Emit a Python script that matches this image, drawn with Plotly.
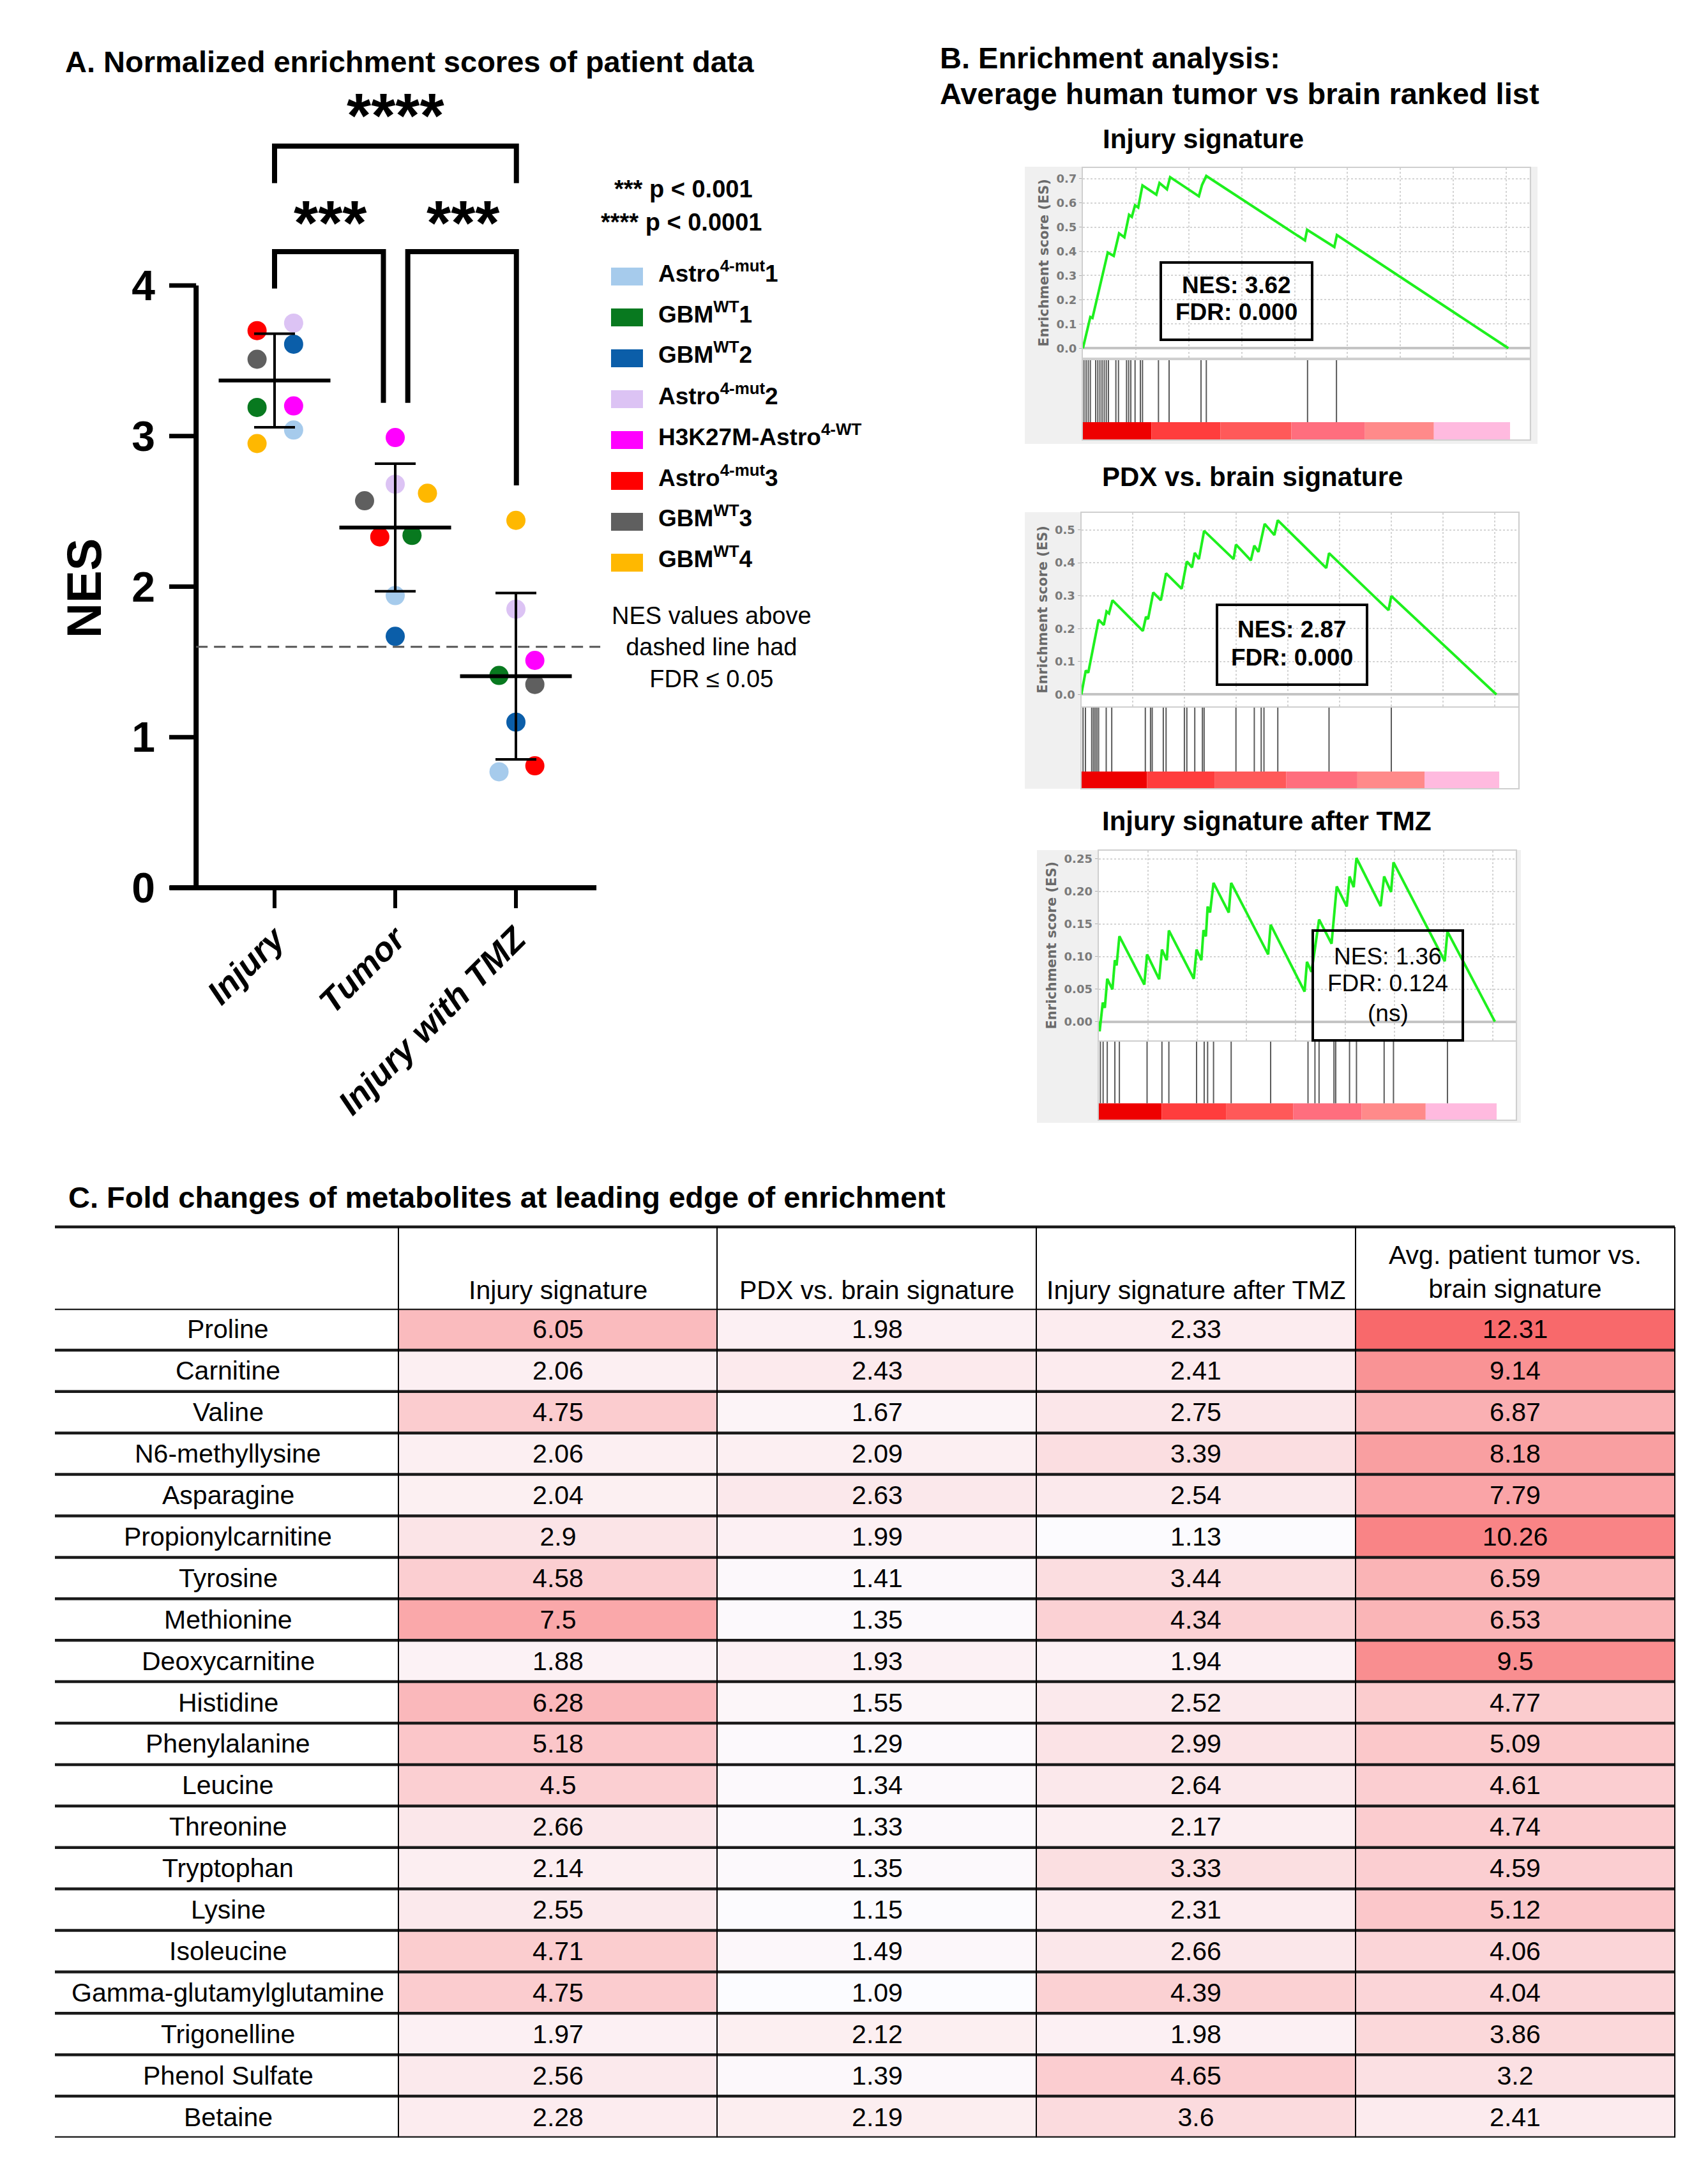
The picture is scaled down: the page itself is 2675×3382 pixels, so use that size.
import numpy as np
import plotly.graph_objects as go

W, H = 2675, 3382
FONT = "Liberation Sans"

# ======================= DATA =======================
# ---- Panel A: NES per patient sample ----
groups = ["Injury", "Tumor", "Injury with TMZ"]
samples = ["Astro<sup>4-mut</sup>1", "GBM<sup>WT</sup>1", "GBM<sup>WT</sup>2",
           "Astro<sup>4-mut</sup>2", "H3K27M-Astro<sup>4-WT</sup>", "Astro<sup>4-mut</sup>3",
           "GBM<sup>WT</sup>3", "GBM<sup>WT</sup>4"]
nes_injury = [3.04, 3.19, 3.61, 3.75, 3.20, 3.70, 3.51, 2.95]
nes_tumor = [1.94, 2.34, 1.67, 2.68, 2.99, 2.33, 2.57, 2.62]
nes_tmz = [0.77, 1.41, 1.10, 1.85, 1.51, 0.81, 1.35, 2.44]
fdr_nes_cutoff = 1.6
sig_top = "****"
sig_pair = "***"
p_legend = ["*** p &lt; 0.001", "**** p &lt; 0.0001"]
fdr_note = "NES values above<br>dashed line had<br>FDR ≤ 0.05"

# ---- Panel B: GSEA running enrichment scores ----
gsea_titles = ["Injury signature", "PDX vs. brain signature", "Injury signature after TMZ"]

gsea1_rank = [0, 0.0175, 0.0225, 0.0585, 0.0725, 0.085, 0.0975, 0.1085, 0.115, 0.1225, 0.13,
              0.14, 0.1726, 0.18, 0.1976, 0.205, 0.2726, 0.28, 0.29, 0.522, 0.527, 0.591, 0.597, 1.0]
gsea1_es = [0, 0.129, 0.125, 0.395, 0.381, 0.474, 0.458, 0.551, 0.542, 0.590, 0.581,
            0.672, 0.634, 0.682, 0.656, 0.706, 0.627, 0.674, 0.711, 0.445, 0.489, 0.418, 0.467, 0.0]
gsea1_hits = [0.0025, 0.0075, 0.0125, 0.0175, 0.030, 0.035, 0.040, 0.045, 0.050, 0.055, 0.060,
              0.0775, 0.0836, 0.1026, 0.1076, 0.1126, 0.1226, 0.1351, 0.1401, 0.1776, 0.2026,
              0.2776, 0.2901, 0.528, 0.596]
gsea1_bins = [0, 0.161, 0.323, 0.490, 0.663, 0.825, 1.004]

gsea2_rank = [0, 0.0108, 0.0167, 0.0417, 0.0542, 0.0608, 0.0667, 0.075, 0.1483, 0.1558, 0.1608,
              0.1733, 0.1917, 0.2042, 0.2417, 0.2542, 0.2667, 0.2733, 0.2833, 0.2958, 0.3667,
              0.3725, 0.4083, 0.4167, 0.4267, 0.4417, 0.465, 0.4733, 0.59, 0.5967, 0.74, 0.7467, 1.0]
gsea2_es = [0, 0.073, 0.066, 0.227, 0.211, 0.252, 0.246, 0.286, 0.193, 0.236, 0.229,
            0.310, 0.286, 0.368, 0.321, 0.404, 0.386, 0.430, 0.411, 0.497, 0.411,
            0.455, 0.407, 0.452, 0.433, 0.518, 0.484, 0.529, 0.384, 0.429, 0.256, 0.299, 0.0]
gsea2_hits = [0.0042, 0.01, 0.025, 0.0292, 0.0333, 0.0375, 0.0417, 0.06, 0.0733, 0.1542, 0.1667,
              0.1708, 0.1975, 0.2042, 0.2483, 0.2542, 0.2733, 0.2917, 0.2958, 0.3725, 0.4167,
              0.4333, 0.44, 0.4733, 0.5967, 0.7467]
gsea2_bins = [0, 0.1583, 0.3208, 0.4933, 0.665, 0.8267, 1.0067]

gsea3_rank = [0, 0.0026, 0.0105, 0.0157, 0.0218, 0.0349, 0.041, 0.0454, 0.0524, 0.1153, 0.1223,
              0.1528, 0.1598, 0.172, 0.1773, 0.2402, 0.2472, 0.2594, 0.2646, 0.2707, 0.2751,
              0.2812, 0.29, 0.3284, 0.3345, 0.4279, 0.4341, 0.5197, 0.5258, 0.5371, 0.5459,
              0.5563, 0.5878, 0.6009, 0.6262, 0.6332, 0.6437, 0.6507, 0.7118, 0.7205, 0.738,
              0.7441, 0.8734, 0.8803, 1.0]
gsea3_es = [0, -0.015, 0.0293, 0.0212, 0.0658, 0.0495, 0.0944, 0.0863, 0.1312, 0.057, 0.1032,
            0.0651, 0.1107, 0.0944, 0.14, 0.0658, 0.1107, 0.0944, 0.1406, 0.1309, 0.1768,
            0.1676, 0.2132, 0.1676, 0.2132, 0.1032, 0.1488, 0.0462, 0.0918, 0.0765, 0.1123,
            0.1569, 0.1198, 0.2077, 0.1768, 0.223, 0.2067, 0.2513, 0.1774, 0.223, 0.1992,
            0.2448, 0.0928, 0.1383, 0.0]
gsea3_hits = [0.0044, 0.0114, 0.0218, 0.041, 0.0524, 0.1223, 0.1598, 0.1773, 0.2472, 0.2664,
              0.2751, 0.29, 0.3345, 0.4341, 0.5284, 0.5459, 0.5563, 0.5939, 0.5983, 0.6332,
              0.6507, 0.7205, 0.7441, 0.8803]
gsea3_bins = [0, 0.159, 0.3214, 0.4908, 0.6638, 0.8253, 1.0044]

gsea_stats = [["NES: 3.62", "FDR: 0.000"], ["NES: 2.87", "FDR: 0.000"],
              ["NES: 1.36", "FDR: 0.124", "(ns)"]]

# ---- Panel C: fold-change table ----
metabolites = ["Proline", "Carnitine", "Valine", "N6-methyllysine", "Asparagine",
               "Propionylcarnitine", "Tyrosine", "Methionine", "Deoxycarnitine", "Histidine",
               "Phenylalanine", "Leucine", "Threonine", "Tryptophan", "Lysine", "Isoleucine",
               "Gamma-glutamylglutamine", "Trigonelline", "Phenol Sulfate", "Betaine"]
fc_injury = [6.05, 2.06, 4.75, 2.06, 2.04, 2.9, 4.58, 7.5, 1.88, 6.28, 5.18, 4.5, 2.66, 2.14,
             2.55, 4.71, 4.75, 1.97, 2.56, 2.28]
fc_pdx = [1.98, 2.43, 1.67, 2.09, 2.63, 1.99, 1.41, 1.35, 1.93, 1.55, 1.29, 1.34, 1.33, 1.35,
          1.15, 1.49, 1.09, 2.12, 1.39, 2.19]
fc_tmz = [2.33, 2.41, 2.75, 3.39, 2.54, 1.13, 3.44, 4.34, 1.94, 2.52, 2.99, 2.64, 2.17, 3.33,
          2.31, 2.66, 4.39, 1.98, 4.65, 3.6]
fc_avg = [12.31, 9.14, 6.87, 8.18, 7.79, 10.26, 6.59, 6.53, 9.5, 4.77, 5.09, 4.61, 4.74, 4.59,
          5.12, 4.06, 4.04, 3.86, 3.2, 2.41]
table_headers = ["Injury signature", "PDX vs. brain signature", "Injury signature after TMZ",
                 "Avg. patient tumor vs.<br>brain signature"]

titles = {"A": "A. Normalized enrichment scores of patient data",
          "B1": "B. Enrichment analysis:",
          "B2": "Average human tumor vs brain ranked list",
          "C": "C. Fold changes of metabolites at leading edge of enrichment"}

# ======================= STYLE =======================
sample_colors = ["#a6cbec", "#08791f", "#0b5ea9", "#dcc3f4", "#ff00ff", "#ff0000",
                 "#5f5f5f", "#ffb800"]
jitter = [[0.158, -0.145, 0.158, 0.158, 0.158, -0.145, -0.145, -0.145],
          [0.0, 0.139, 0.0, 0.0, 0.0, -0.128, -0.254, 0.267],
          [-0.14, -0.14, 0.0, 0.0, 0.157, 0.157, 0.157, 0.0]]
bin_colors = ["#ee0000", "#ff3d3d", "#ff5959", "#ff6e7e", "#ff8a8a", "#ffbadf"]


def px(x):
    return x / W


def py(y):
    return 1 - y / H


fig = go.Figure()
shapes, annotations = [], []
layout = dict(width=W, height=H, margin=dict(l=0, r=0, t=0, b=0),
              paper_bgcolor="white", plot_bgcolor="rgba(0,0,0,0)", showlegend=False,
              font=dict(family=FONT, color="black"), hovermode=False)


def ann(text, x, y, size, bold=False, xanchor="left", yanchor="middle", color="black",
        xref="paper", yref="paper", **kw):
    annotations.append(dict(text=text, x=x, y=y, xref=xref, yref=yref, showarrow=False,
                            xanchor=xanchor, yanchor=yanchor,
                            font=dict(size=size, color=color, family=kw.pop("family", FONT),
                                      weight="bold" if bold else "normal"), **kw))


# ======================= PANEL A =======================
layout["xaxis"] = dict(domain=[px(251.9), px(932.3)], range=[-0.9, 2.7],
                       tickvals=[0, 1, 2], ticktext=groups, tickangle=-45,
                       tickfont=dict(size=53, style="italic", weight="bold"), ticks="",
                       showline=False, showgrid=False, zeroline=False, anchor="y")
layout["yaxis"] = dict(domain=[py(1419.7), py(132.5)], range=[-0.16, 5.3],
                       tickvals=[0, 1, 2, 3, 4], tickfont=dict(size=66, weight="bold"),
                       ticks="", ticklabelstandoff=16,
                       showline=False, showgrid=False, zeroline=False, anchor="x")

by_group = [nes_injury, nes_tumor, nes_tmz]
for s, name in enumerate(samples):
    fig.add_trace(go.Scatter(
        x=[g + jitter[g][s] for g in range(3)], y=[by_group[g][s] for g in range(3)],
        mode="markers", marker=dict(size=30, color=sample_colors[s], line=dict(width=0)),
        name=name, xaxis="x", yaxis="y", cliponaxis=False))

means = [float(np.mean(v)) for v in by_group]
sds = [float(np.std(v, ddof=1)) for v in by_group]
fig.add_trace(go.Scatter(
    x=[0, 1, 2], y=means, mode="markers", xaxis="x", yaxis="y",
    marker=dict(symbol="line-ew", size=125, color="black", line=dict(width=6, color="black")),
    error_y=dict(type="data", array=sds, thickness=4, width=32, color="black")))

line_a = dict(color="black", width=8)
shapes += [
    dict(type="line", xref="x", yref="y", x0=-0.65, x1=-0.65, y0=-0.017, y1=4, line=line_a),
    dict(type="line", xref="x", yref="y", x0=-0.868, x1=2.667, y0=0, y1=0, line=line_a),
]
for v in range(5):
    shapes.append(dict(type="line", xref="x", yref="y", x0=-0.873, x1=-0.65, y0=v, y1=v,
                       line=dict(color="black", width=7)))
for g in range(3):
    shapes.append(dict(type="line", xref="x", yref="y", x0=g, x1=g, y0=0, y1=-0.136,
                       line=dict(color="black", width=6)))
shapes.append(dict(type="line", xref="x", yref="y", x0=-0.65, x1=2.7, y0=fdr_nes_cutoff,
                   y1=fdr_nes_cutoff, line=dict(color="#555555", width=3, dash="18px,10px")))
# significance brackets
shapes += [
    dict(type="path", xref="x", yref="y", path="M 0,4.68 L 0,4.926 L 2.004,4.926 L 2.004,4.68",
         line=line_a),
    dict(type="path", xref="x", yref="y", path="M 0,3.98 L 0,4.225 L 0.902,4.225 L 0.902,3.22",
         line=line_a),
    dict(type="path", xref="x", yref="y",
         path="M 1.104,3.22 L 1.104,4.225 L 2.004,4.225 L 2.004,2.672", line=line_a),
]
ann(sig_top, 1.0, 5.13, 98, bold=True, xanchor="center", xref="x", yref="y")
ann(sig_pair, 0.465, 4.415, 98, bold=True, xanchor="center", xref="x", yref="y")
ann(sig_pair, 1.564, 4.415, 98, bold=True, xanchor="center", xref="x", yref="y")

ann("NES", px(123), py(913), 76, bold=True, xanchor="center", textangle=-90)
ann(titles["A"], px(92), py(89), 47, bold=True)

ann(p_legend[0], px(952), py(288), 38, bold=True)
ann(p_legend[1], px(931), py(340), 38, bold=True)
for i, (name, col) in enumerate(zip(samples, sample_colors)):
    yc = 425 + i * 64
    shapes.append(dict(type="rect", xref="paper", yref="paper", x0=px(949), x1=px(999),
                       y0=py(yc - 14), y1=py(yc + 14), fillcolor=col, line=dict(width=0)))
    ann(name, px(1021), py(yc - 8), 37, bold=True)
ann(fdr_note, px(1106), py(1005), 38, xanchor="center")

# ======================= PANEL B =======================
ann(titles["B1"], px(1462), py(83), 47, bold=True)
ann(titles["B2"], px(1462), py(139), 47, bold=True)

gsea_geom = [
    dict(bg=(1597, 253, 2400, 687), x=(1688, 2387.5), es=(255, 551.7), hits=(556, 680),
         bar=27 / 124, xr=1.0498, yr=[-0.038, 0.744], dt=0.1, fmt=".1f",
         title=(1876, 210), box=(1810, 403, 2047, 524), lines=[442, 483], bold=True),
    dict(bg=(1597, 794, 2372, 1227), x=(1685.5, 2369.5), es=(794.7, 1098), hits=(1100, 1226),
         bar=26 / 126, xr=1.052, yr=[-0.036, 0.552], dt=0.1, fmt=".1f",
         title=(1953, 738), box=(1898, 939, 2133, 1064), lines=[980, 1024], bold=True),
    dict(bg=(1616, 1323, 2374, 1750), x=(1712.6, 2365.7), es=(1323.6, 1620.8),
         hits=(1623, 1745), bar=25.6 / 122, xr=1.0523, yr=[-0.0287, 0.263], dt=0.05,
         fmt=".2f", title=(1976, 1277), box=(2048, 1449, 2283, 1621),
         lines=[1492, 1535, 1581], bold=False),
]
gsea_data = [(gsea1_rank, gsea1_es, gsea1_hits, gsea1_bins),
             (gsea2_rank, gsea2_es, gsea2_hits, gsea2_bins),
             (gsea3_rank, gsea3_es, gsea3_hits, gsea3_bins)]

for k, (geo, (rank, es, hits, bins)) in enumerate(zip(gsea_geom, gsea_data)):
    n_es, n_hit = 2 * k + 2, 2 * k + 3
    bx0, by0, bx1, by1 = geo["bg"]
    shapes.append(dict(type="rect", xref="paper", yref="paper", layer="below",
                       x0=px(bx0), x1=px(bx1), y0=py(by0), y1=py(by1),
                       fillcolor="#f0f0f0", line=dict(width=0)))
    for (ya, yb) in (geo["es"], geo["hits"]):
        shapes.append(dict(type="rect", xref="paper", yref="paper", layer="below",
                           x0=px(geo["x"][0]), x1=px(geo["x"][1]), y0=py(yb), y1=py(ya),
                           fillcolor="white", line=dict(width=0)))
    frame = dict(showline=True, mirror=True, linecolor="#cfcfcf", linewidth=2)
    layout[f"xaxis{n_es}"] = dict(domain=[px(geo["x"][0]), px(geo["x"][1])],
                                  range=[0, geo["xr"]], anchor=f"y{n_es}",
                                  showticklabels=False, ticks="", showgrid=True,
                                  griddash="dot", gridcolor="#d4d4d4", gridwidth=2,
                                  tick0=0, dtick=0.1244, zeroline=False, **frame)
    layout[f"yaxis{n_es}"] = dict(domain=[py(geo["es"][1]), py(geo["es"][0])],
                                  range=geo["yr"], anchor=f"x{n_es}", dtick=geo["dt"],
                                  tick0=0, tickformat=geo["fmt"], showgrid=True,
                                  griddash="dot", gridcolor="#d4d4d4", gridwidth=2,
                                  zeroline=True, zerolinecolor="#c4c4c4", zerolinewidth=4,
                                  ticks="outside", ticklen=4, tickcolor="#b0b0b0",
                                  tickfont=dict(size=18, color="#7a7a7a", family="DejaVu Sans",
                                                weight="bold"),
                                  title=dict(text="Enrichment score (ES)", standoff=6,
                                             font=dict(size=21, color="#6a6a6a",
                                                       family="DejaVu Sans", weight="bold")),
                                  **frame)
    layout[f"xaxis{n_hit}"] = dict(domain=[px(geo["x"][0]), px(geo["x"][1])],
                                   range=[0, geo["xr"]], anchor=f"y{n_hit}",
                                   showticklabels=False, ticks="", showgrid=False,
                                   zeroline=False, **frame)
    layout[f"yaxis{n_hit}"] = dict(domain=[py(geo["hits"][1]), py(geo["hits"][0])],
                                   range=[0, 1], anchor=f"x{n_hit}", showticklabels=False,
                                   ticks="", showgrid=False, zeroline=False, **frame)
    fig.add_trace(go.Scatter(x=rank, y=es, mode="lines", line=dict(color="#1ef01e", width=4),
                             xaxis=f"x{n_es}", yaxis=f"y{n_es}"))
    hx, hy = [], []
    for h in hits:
        hx += [h, h, None]
        hy += [geo["bar"], 1, None]
    fig.add_trace(go.Scatter(x=hx, y=hy, mode="lines", line=dict(color="#5a5a5a", width=2),
                             xaxis=f"x{n_hit}", yaxis=f"y{n_hit}"))
    centers = [(bins[i] + bins[i + 1]) / 2 for i in range(len(bins) - 1)]
    widths = [bins[i + 1] - bins[i] for i in range(len(bins) - 1)]
    fig.add_trace(go.Bar(x=centers, y=[geo["bar"]] * len(centers), width=widths,
                         marker=dict(color=bin_colors, line=dict(width=0)),
                         xaxis=f"x{n_hit}", yaxis=f"y{n_hit}"))
    ann(gsea_titles[k], px(geo["title"][0]), py(geo["title"][1]), 42, bold=True,
        xanchor="center")
    x0, y0, x1, y1 = geo["box"]
    shapes.append(dict(type="rect", xref="paper", yref="paper", x0=px(x0), x1=px(x1),
                       y0=py(y1), y1=py(y0), line=dict(color="black", width=4)))
    for line_txt, ly in zip(gsea_stats[k], geo["lines"]):
        ann(line_txt, px((x0 + x1) / 2), py(ly - 3), 37, bold=geo["bold"], xanchor="center")

# ======================= PANEL C =======================
ann(titles["C"], px(97), py(1866), 47, bold=True)
cols = [fc_injury, fc_pdx, fc_tmz, fc_avg]
z = [[c[i] for c in cols] for i in range(len(metabolites))]
txt = [[f"{c[i]:g}" for c in cols] for i in range(len(metabolites))]
allv = [v for c in cols for v in c]
layout["xaxis8"] = dict(domain=[px(616), px(2615)], range=[-0.5, 3.5], anchor="y8",
                        showticklabels=False, ticks="", showgrid=False, zeroline=False)
layout["yaxis8"] = dict(domain=[py(3339), py(2041)], range=[len(metabolites) - 0.5, -0.5],
                        anchor="x8", showticklabels=False, ticks="", showgrid=False,
                        zeroline=False)
fig.add_trace(go.Heatmap(z=z, x=[0, 1, 2, 3], y=list(range(len(metabolites))), text=txt,
                         texttemplate="%{text}",
                         textfont=dict(size=41, color="black", family=FONT),
                         colorscale=[[0, "#FCFCFF"], [1, "#F8696B"]],
                         zmin=min(allv), zmax=max(allv), showscale=False,
                         xaxis="x8", yaxis="y8", hoverinfo="skip"))
for i, m in enumerate(metabolites):
    ann(m, px(349), i, 41, xanchor="center", yref="y8")
col_centers = [865.5, 1365, 1865, 2365]
for j, h in enumerate(table_headers):
    ann(h, px(col_centers[j]), py(1984 if "<br>" in h else 2012), 41, xanchor="center")
# table rules
hline = dict(color="#1a1a1a", width=4.5)
shapes.append(dict(type="line", xref="paper", yref="paper", x0=px(78), x1=px(2615),
                   y0=py(1913), y1=py(1913), line=hline))
for b in range(len(metabolites) + 1):
    shapes.append(dict(type="line", xref="paper", yref="y8", x0=px(78), x1=px(2615),
                       y0=b - 0.5, y1=b - 0.5, line=hline))
for xv in [616, 1115, 1615, 2115, 2615]:
    shapes.append(dict(type="line", xref="paper", yref="paper", x0=px(xv), x1=px(xv),
                       y0=py(1913), y1=py(3339), line=dict(color="black", width=2)))

layout["shapes"] = shapes
layout["annotations"] = annotations
fig.update_layout(**layout)
fig.write_html("out.html")
